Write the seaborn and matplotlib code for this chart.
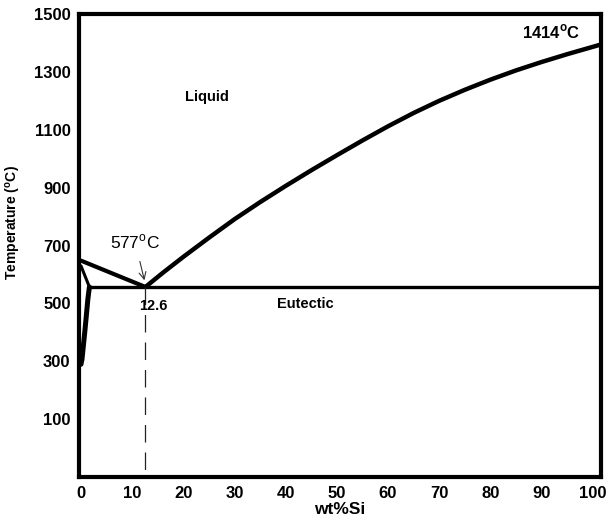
import numpy as np
import pandas as pd
import matplotlib
matplotlib.use("Agg")
import matplotlib.pyplot as plt
import seaborn as sns

# Al-Si phase diagram
liquidus_si = [12.6, 16, 20, 25, 30, 35, 40, 45, 50, 55, 60, 65, 70, 75, 80, 85, 90, 95, 101.5]
liquidus_t = [557, 606, 661, 727, 791, 850, 906, 960, 1012, 1063, 1112, 1158, 1200, 1238, 1273,
              1305, 1334, 1361, 1394]
al_liquidus_si = [0.0, 12.6]
al_liquidus_t = [648, 557]
solidus_si = [0.0, 1.65]
solidus_t = [630, 557]
solvus_si = [1.65, 1.35, 0.8, 0.2, 0.0]
solvus_t = [557, 515, 411, 307, 290]
eutectic_si = [1.65, 101.5]
eutectic_t = [557, 557]
eutectic_comp = 12.6

x_ticks = [0, 10, 20, 30, 40, 50, 60, 70, 80, 90, 100]
y_ticks = [100, 300, 500, 700, 900, 1100, 1300, 1500]

sns.set_style("white")
plt.rcParams["font.family"] = ["Liberation Sans", "DejaVu Sans"]
plt.rcParams["mathtext.fontset"] = "custom"
plt.rcParams["mathtext.rm"] = "Liberation Sans"
plt.rcParams["mathtext.bf"] = "Liberation Sans:bold"
for k in ["text.color", "axes.labelcolor", "xtick.color", "ytick.color"]:
    plt.rcParams[k] = "black"

fig = plt.figure(figsize=(6.07, 5.17), dpi=100)
ax = fig.add_axes([0.130, 0.077, 0.860, 0.896])

liq = pd.DataFrame({"si": liquidus_si, "t": liquidus_t})
sns.lineplot(data=liq, x="si", y="t", sort=False, estimator=None, color="black", lw=3.2, ax=ax)
sns.lineplot(x=al_liquidus_si, y=al_liquidus_t, sort=False, estimator=None, color="black", lw=3.0, ax=ax)
sns.lineplot(x=solidus_si, y=solidus_t, sort=False, estimator=None, color="black", lw=2.2, ax=ax)
sns.lineplot(x=solvus_si, y=solvus_t, sort=False, estimator=None, color="black", lw=3.6, ax=ax)
sns.lineplot(x=eutectic_si, y=eutectic_t, sort=False, estimator=None, color="black", lw=2.4, ax=ax)
ax.plot([eutectic_comp, eutectic_comp], [eutectic_t[0], -100], color="#222222", lw=0.9,
        dashes=(14, 8))

ax.set_xlim(-0.4, 101.6)
ax.set_ylim(-100, 1500)
ax.set_xticks(x_ticks)
ax.set_yticks(y_ticks)
ax.tick_params(length=0, pad=6)
for lab in ax.get_xticklabels() + ax.get_yticklabels():
    lab.set_fontweight("bold")
    lab.set_fontsize(12)
for s in ax.spines.values():
    s.set_color("black")
    s.set_linewidth(3)

ax.set_xlabel("wt%Si", fontsize=12.5, fontweight="bold", labelpad=1)
ax.set_ylabel("Temperature ($^{\\mathbf{o}}$C)", fontsize=10, fontweight="bold",
              family=["Liberation Sans Narrow", "Liberation Sans"])
ax.yaxis.set_label_coords(-0.108, 0.55)

ax.text(91.9, 1438, "1414$^{\\mathbf{o}}$C", fontsize=12, fontweight="bold", ha="center", va="center")
ax.text(24.6, 1213, "Liquid", fontsize=10.5, fontweight="bold", ha="center", va="center")
ax.text(14.1, 491, "12.6", fontsize=10.5, fontweight="bold", ha="center", va="center")
ax.text(43.9, 498, "Eutectic", fontsize=10.5, fontweight="bold", ha="center", va="center")
ax.annotate("577$^{\\mathrm{o}}$C", xy=(12.4, 580), xytext=(10.6, 712), fontsize=12.5,
            ha="center", va="center",
            arrowprops=dict(arrowstyle="->", color="#333333", lw=0.8, shrinkA=5, shrinkB=0))

fig.savefig("out.png", dpi=100)
